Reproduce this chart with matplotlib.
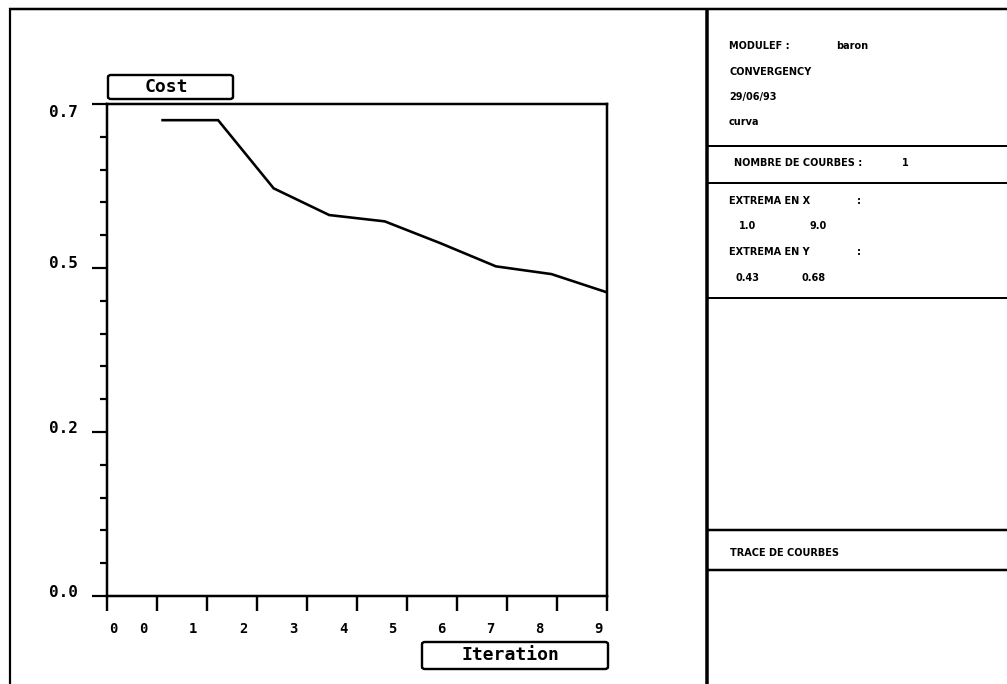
import numpy as np
import matplotlib
matplotlib.use("Agg")
import matplotlib.pyplot as plt
from matplotlib.lines import Line2D
from matplotlib.patches import FancyBboxPatch
from matplotlib.transforms import ScaledTranslation

# Convergence data
iterations = [1, 2, 3, 4, 5, 6, 7, 8, 9]
cost = [0.677, 0.677, 0.580, 0.542, 0.533, 0.502, 0.469, 0.458, 0.432]

x_tick_labels = ["0", "0", "1", "2", "3", "4", "5", "6", "7", "8", "9"]
y_tick_labels = ["0.0", "0.2", "0.5", "0.7"]
x_title = "Iteration"
y_title = "Cost"

# Side panel texts
module_label = "MODULEF :"
module_name = "baron"
plot_name = "CONVERGENCY"
plot_date = "29/06/93"
plot_kind = "curva"
n_curves_label = "NOMBRE DE COURBES :"
n_curves = "1"
x_extrema_label = "EXTREMA EN X"
x_extrema = ["1.0", "9.0"]
y_extrema_label = "EXTREMA EN Y"
y_extrema = ["0.43", "0.68"]
trace_label = "TRACE DE COURBES"

W, H = 1007, 684
fig = plt.figure(figsize=(W / 100, H / 100), dpi=100)
fig.patch.set_facecolor("white")


def fx(px):
    return px / W


def fy(py):
    return 1 - py / H


def px2pt(px):
    return px * 0.72


MONO = "DejaVu Sans Mono"
SANS = "DejaVu Sans"

# ---- main plot ----
ax = fig.add_axes([fx(107), fy(596), (607 - 107) / W, (596 - 104) / H])
ax.plot(iterations, cost, color="black", lw=px2pt(2.6), solid_joinstyle="miter")
ax.set_xlim(0, 9)
ax.set_ylim(0, 0.7)
for s in ax.spines.values():
    s.set_linewidth(px2pt(2.5))
    s.set_color("black")

ax.set_xticks(np.linspace(0, 9, 11))
ax.set_xticklabels(x_tick_labels, family=MONO, fontweight="bold", fontsize=10)
ax.set_yticks(np.linspace(0, 0.7, 4))
ax.set_yticklabels(y_tick_labels, family=MONO, fontweight="bold", fontsize=11.5)
ax.set_yticks(np.linspace(0, 0.7, 16), minor=True)

ax.tick_params(axis="x", which="major", direction="out", length=11,
               width=px2pt(2.4), pad=8)
ax.tick_params(axis="y", which="major", direction="out", length=11,
               width=px2pt(2.2), pad=10)
ax.tick_params(axis="y", which="minor", direction="out", length=5,
               width=px2pt(2.2))

# shift tick labels to the places the plotter put them
x_shift = [6, -14, -14, -14, -14, -14, -15, -16, -17, -18, -9]
for lab, dx in zip(ax.get_xticklabels(), x_shift):
    lab.set_transform(lab.get_transform()
                      + ScaledTranslation(dx / 100, 0, fig.dpi_scale_trans))
y_shift = [5, 5, 6, -7]
for lab, dy in zip(ax.get_yticklabels(), y_shift):
    lab.set_transform(lab.get_transform()
                      + ScaledTranslation(0, dy / 100, fig.dpi_scale_trans))


def title_box(x0, y0, x1, y1, text, tx):
    box = FancyBboxPatch((fx(x0), fy(y1)), fx(x1) - fx(x0), fy(y0) - fy(y1),
                         boxstyle="round,pad=0,rounding_size=0.003",
                         transform=fig.transFigure, fill=False,
                         lw=px2pt(2.4), ec="black")
    fig.add_artist(box)
    fig.text(fx(tx), fy((y0 + y1) / 2), text, family=MONO, fontweight="bold",
             fontsize=13, ha="center", va="center")


title_box(108, 75, 233, 99, y_title, 166)
title_box(422, 642, 608, 669, x_title, 510)

# ---- frame and side panel ----
def hline(y, x0, x1, lw):
    fig.add_artist(Line2D([fx(x0), fx(x1)], [fy(y), fy(y)],
                          transform=fig.transFigure, color="black",
                          lw=px2pt(lw), solid_capstyle="butt"))


def vline(x, y0, y1, lw):
    fig.add_artist(Line2D([fx(x), fx(x)], [fy(y0), fy(y1)],
                          transform=fig.transFigure, color="black",
                          lw=px2pt(lw), solid_capstyle="butt"))


hline(9, 9, 1007, 2.5)
vline(10, 8, 684, 2.2)
vline(707, 8, 684, 3.5)
hline(146, 707, 1007, 2)
hline(183, 707, 1007, 2)
hline(298, 707, 1007, 2)
hline(530, 707, 1007, 2.5)
hline(570, 707, 1007, 2.5)

INFO = dict(family=SANS, fontweight="bold", fontsize=7, va="center",
            ha="left")


def info(x, y, s):
    fig.text(fx(x), fy(y), s, **INFO)


info(729, 46, module_label)
info(836, 46, module_name)
info(729, 72, plot_name)
info(729, 97, plot_date)
info(729, 122, plot_kind)
info(734, 163, n_curves_label)
info(902, 163, n_curves)
info(729, 201, x_extrema_label)
info(857, 201, ":")
info(739, 226, x_extrema[0])
info(810, 226, x_extrema[1])
info(729, 252, y_extrema_label)
info(857, 252, ":")
info(736, 278, y_extrema[0])
info(801, 278, y_extrema[1])
info(730, 553, trace_label)

fig.savefig("out.png", dpi=100, facecolor="white")
